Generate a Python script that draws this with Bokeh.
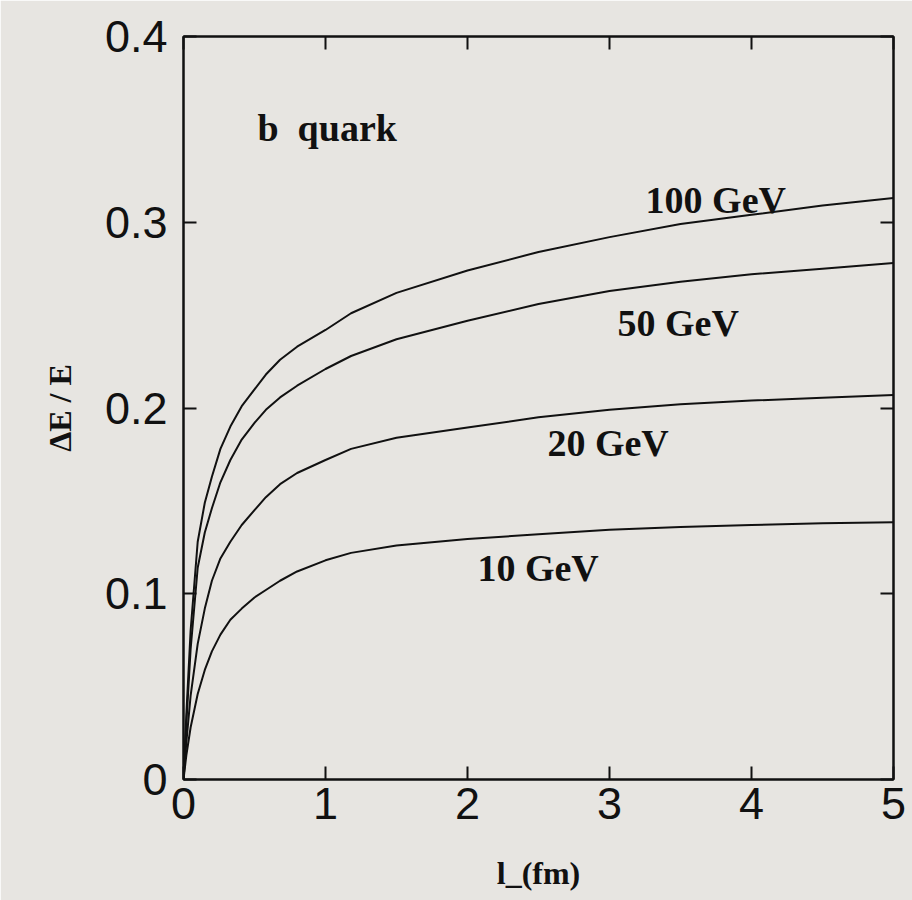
from bokeh.plotting import figure
from bokeh.models import Range1d, LinearAxis, FixedTicker, ColumnDataSource
from bokeh.core.properties import value
from bokeh.embed import file_html
from bokeh.resources import INLINE

# ---- data ----
l_fm = [0, 0.02, 0.05, 0.1, 0.15, 0.2, 0.26, 0.33, 0.41, 0.5, 0.58, 0.68, 0.8, 1.0, 1.18, 1.5, 2.0, 2.5, 3.0, 3.5, 4.0, 4.5, 5.0]
de_10 = [0, 0.013, 0.028, 0.046, 0.059, 0.069, 0.078, 0.086, 0.092, 0.098, 0.102, 0.107, 0.112, 0.118, 0.122, 0.126, 0.1295, 0.132, 0.1345, 0.136, 0.137, 0.138, 0.1385]
de_20 = [0, 0.02, 0.045, 0.073, 0.092, 0.107, 0.119, 0.128, 0.137, 0.145, 0.152, 0.159, 0.165, 0.172, 0.178, 0.184, 0.1895, 0.195, 0.199, 0.202, 0.204, 0.2055, 0.207]
de_50 = [0, 0.03, 0.07, 0.114, 0.133, 0.146, 0.16, 0.172, 0.183, 0.192, 0.199, 0.2057, 0.212, 0.221, 0.228, 0.237, 0.247, 0.256, 0.263, 0.268, 0.272, 0.275, 0.278]
de_100 = [0, 0.035, 0.08, 0.128, 0.149, 0.163, 0.178, 0.19, 0.201, 0.21, 0.218, 0.226, 0.233, 0.242, 0.251, 0.262, 0.274, 0.284, 0.292, 0.299, 0.304, 0.309, 0.313]

curve_labels = ["100 GeV", "50 GeV", "20 GeV", "10 GeV"]
label_x = [3.254, 3.056, 2.563, 2.07]
label_y = [0.3122, 0.2455, 0.1809, 0.1136]

title_text = ["b\u00a0\u00a0quark"]
title_x = [0.521]
title_y = [0.351]

x_ticks = [0, 1, 2, 3, 4, 5]
y_ticks = [0, 0.1, 0.2, 0.3, 0.4]
y_tick_labels = ["0", "0.1", "0.2", "0.3", "0.4"]

BG = "#e7e5e1"
INK = "#111111"

p = figure(width=912, height=900, output_backend="svg", toolbar_location=None,
           x_range=Range1d(0, 5), y_range=Range1d(0, 0.4),
           min_border_left=183, min_border_right=19, min_border_top=36, min_border_bottom=121,
           background_fill_color=BG, border_fill_color=BG)
p.grid.visible = False
p.outline_line_color = INK
p.outline_line_width = 2

for ax in p.xaxis + p.yaxis:
    ax.axis_line_color = INK
    ax.axis_line_width = 2
    ax.major_tick_in = 13
    ax.major_tick_out = 0
    ax.minor_tick_in = 0
    ax.minor_tick_out = 0
    ax.major_tick_line_color = INK
    ax.major_tick_line_width = 2
    ax.major_label_text_font = "Liberation Sans"
    ax.major_label_text_font_size = "45px"
    ax.major_label_text_color = INK
    ax.axis_label_text_font = "Liberation Serif"
    ax.axis_label_text_font_style = "bold"
    ax.axis_label_text_color = INK

p.xaxis.ticker = FixedTicker(ticks=x_ticks)
p.yaxis.ticker = FixedTicker(ticks=y_ticks)
p.yaxis.major_label_overrides = {t: s for t, s in zip(y_ticks, y_tick_labels)}
p.xaxis.major_label_standoff = 8
p.yaxis.major_label_standoff = 16
p.xaxis.axis_label = "l_(fm)"
p.xaxis.axis_label_text_font_size = "32px"
p.xaxis.axis_label_standoff = 33
p.yaxis.axis_label = "ΔE / E"
p.yaxis.axis_label_text_font_size = "32px"
p.yaxis.axis_label_standoff = 24

# opposite-side ticks (no labels drawn)
for side, ticks in (("right", y_ticks), ("above", x_ticks)):
    ax = LinearAxis(ticker=FixedTicker(ticks=ticks), major_label_text_color=None,
                    major_label_text_font_size="10px",
                    axis_line_color=INK, axis_line_width=2, major_tick_in=13, major_tick_out=0,
                    minor_tick_in=0, minor_tick_out=0, major_tick_line_color=INK,
                    major_tick_line_width=2, major_label_standoff=0)
    p.add_layout(ax, side)

for ys in (de_10, de_20, de_50, de_100):
    p.line(l_fm, ys, line_color=INK, line_width=2)

src = ColumnDataSource(dict(x=label_x, y=label_y, t=curve_labels))
p.text("x", "y", text="t", source=src, text_font=value("Liberation Serif"), text_font_style="bold",
       text_font_size="38px", text_color=INK, text_baseline="alphabetic", text_align="left")
p.text(title_x, title_y, text=title_text, text_font=value("Liberation Serif"), text_font_style="bold",
       text_font_size="38px", text_color=INK, text_baseline="alphabetic", text_align="left")

open("out.html", "w").write(file_html(p, INLINE))
